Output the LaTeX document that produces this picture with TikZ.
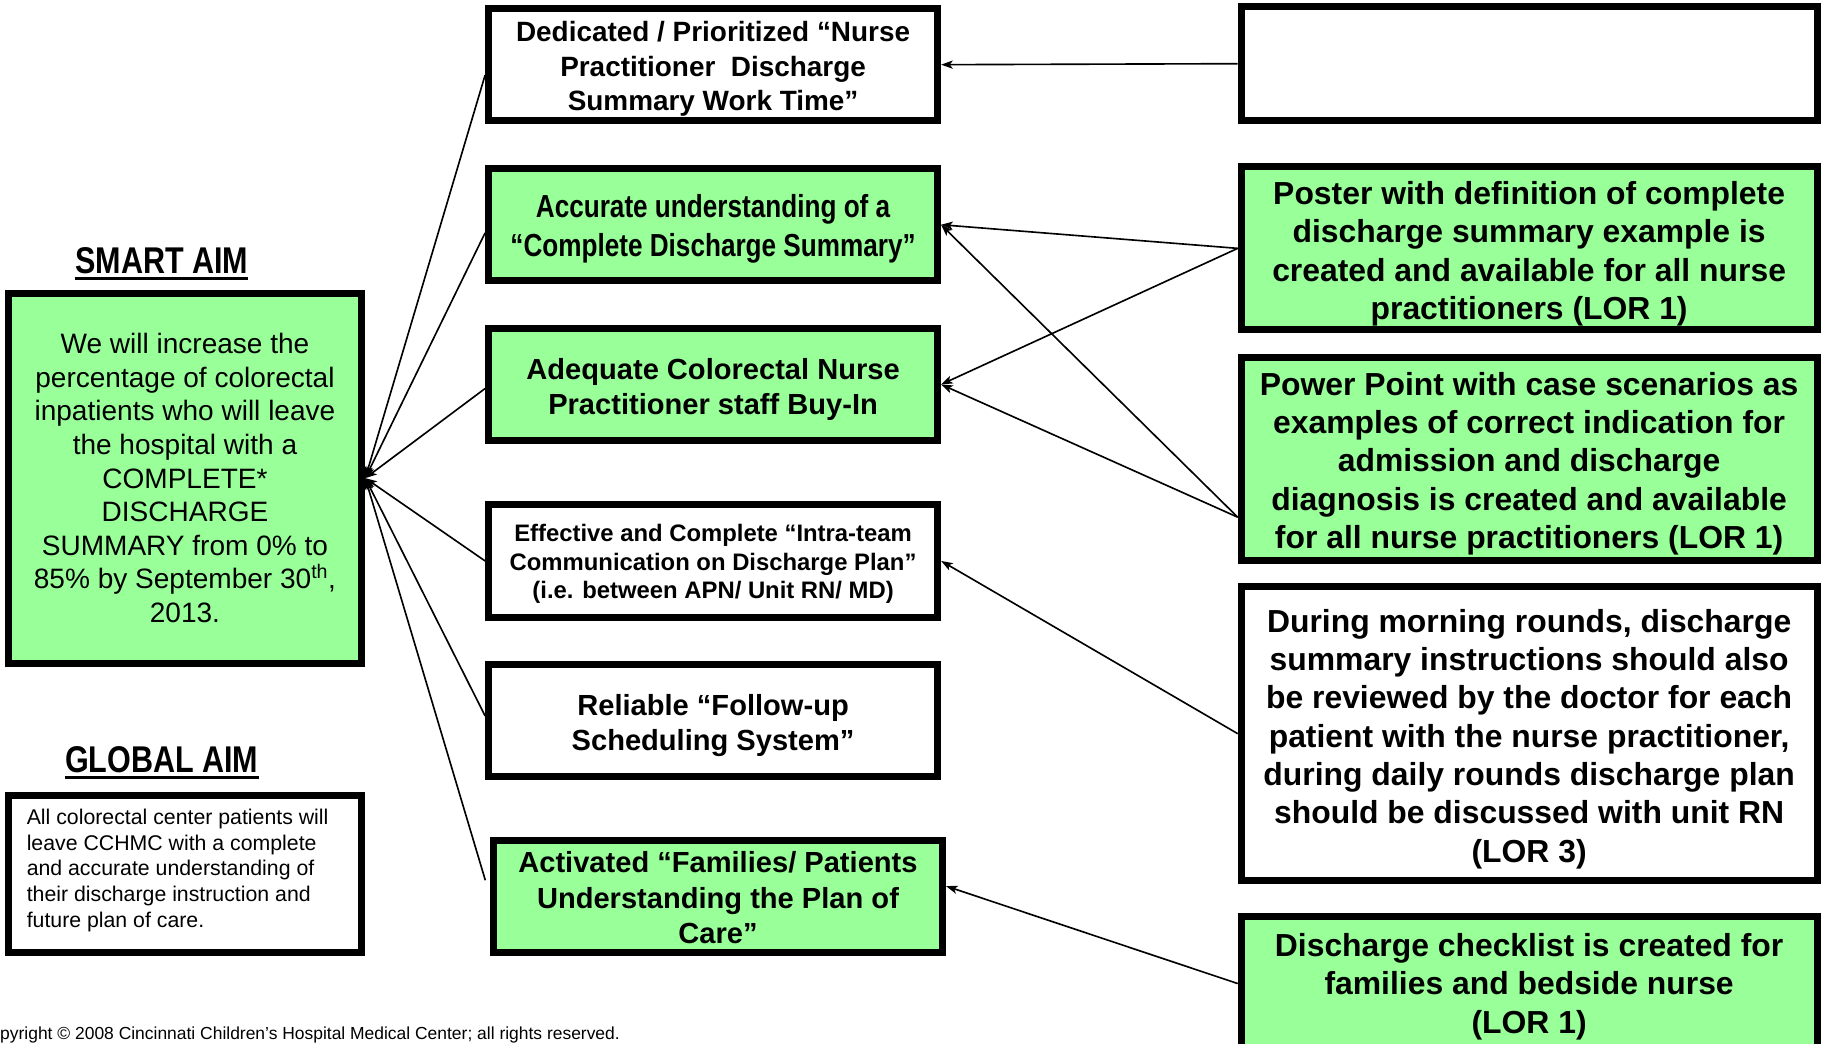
\documentclass[tikz,border=0pt]{standalone}
\usepackage{fontspec}
\setmainfont{Liberation Sans}
\newfontfamily\narrowfont{Liberation Sans}[FakeStretch=0.82]
\usetikzlibrary{arrows.meta,calc}
\definecolor{boxgreen}{HTML}{99FF99}
\newsavebox\cellbox
% text block whose visual position is moved down by #1 inside a centred node
\newcommand\celltext[2][4pt]{\sbox\cellbox{\begin{tabular}{@{}c@{}}#2\end{tabular}}%
  \ht\cellbox=\dimexpr\ht\cellbox+#1\relax\dp\cellbox=\dimexpr\dp\cellbox-#1\relax\usebox\cellbox}
\newcommand\leftcelltext[2][-3pt]{\sbox\cellbox{\begin{tabular}{@{}p{272pt}@{}}#2\end{tabular}}%
  \ht\cellbox=\dimexpr\ht\cellbox+#1\relax\dp\cellbox=\dimexpr\dp\cellbox-#1\relax\usebox\cellbox}
\begin{document}
\begin{tikzpicture}[x=1pt,y=-1pt,
  stdbox/.style={draw=black, line width=6pt, inner sep=0pt, text=black},
  gbox/.style={stdbox, fill=boxgreen},
  wbox/.style={stdbox, fill=white},
  midbox/.style={minimum width=386pt, minimum height=96.5pt},
  rightbox/.style={minimum width=495pt},
  midfont/.style={font=\bfseries\fontsize{25}{30}\selectfont},
  rightfont/.style={font=\bfseries\fontsize{27.4}{33}\selectfont},
  conn/.style={line width=1.4pt, -{Stealth[length=10pt,width=7pt,inset=2.5pt]}},
  aimtitle/.style={inner sep=0pt, font=\narrowfont\bfseries\fontsize{32}{38}\selectfont},
  uline/.style={line width=2.9pt}
]
\useasboundingbox (0,0) rectangle (1568,897);
\begin{scope}
\clip (0,0) rectangle (1568,897);

% ---- left column ----
\node[aimtitle, anchor=base] (smarttitle) at (139,235) {SMART AIM};
\draw[uline] ($(smarttitle.base west)+(0,4.3)$) -- ($(smarttitle.base east)+(0,4.3)$);

\node[gbox, align=center, minimum width=304pt, minimum height=318pt,
      font=\fontsize{24.1}{28.9}\selectfont] (smart) at (159,411)
  {We will increase the\\percentage of colorectal\\inpatients who will leave\\the hospital with a\\COMPLETE*\\DISCHARGE\\SUMMARY from 0\% to\\85\% by September 30\textsuperscript{th},\\2013.};

\node[aimtitle, anchor=base] (globaltitle) at (139,664) {GLOBAL AIM};
\draw[uline] ($(globaltitle.base west)+(0,4.3)$) -- ($(globaltitle.base east)+(0,4.3)$);

\node[wbox, minimum width=304pt, minimum height=135pt,
      font=\fontsize{18.3}{22}\selectfont] (global) at (159,751.5)
  {\leftcelltext{All colorectal center patients will\\leave CCHMC with a complete\\and accurate understanding of\\their discharge instruction and\\future plan of care.}};

\node[inner sep=0pt, anchor=base west, font=\fontsize{15}{18}\selectfont] (copy) at (-19.2,893.5)
  {Copyright © 2008 Cincinnati Children’s Hospital Medical Center; all rights reserved.};

% ---- middle column ----
\node[wbox, midbox, font=\bfseries\fontsize{24}{29.5}\selectfont] (m1) at (613,55.6)
  {\celltext[4pt]{Dedicated / Prioritized “Nurse\\Practitioner\ \ Discharge\\Summary Work Time”}};
\node[gbox, midbox, font=\narrowfont\bfseries\fontsize{27.4}{33}\selectfont] (m2) at (613,193.2)
  {\celltext[4pt]{Accurate understanding of a\\“Complete Discharge Summary”}};
\node[gbox, midbox, midfont] (m3) at (613,330.5)
  {\celltext[5pt]{Adequate Colorectal Nurse\\Practitioner staff Buy-In}};
\node[wbox, midbox, font=\bfseries\fontsize{20.5}{24.5}\selectfont] (m4) at (613,482.2)
  {\celltext[3pt]{Effective and Complete “Intra-team\\Communication on Discharge Plan”\\(i.e. between APN/ Unit RN/ MD)}};
\node[wbox, midbox, midfont] (m5) at (613,619.4)
  {\celltext[4.5pt]{Reliable “Follow-up\\Scheduling System”}};
\node[gbox, midbox, font=\bfseries\fontsize{25}{30.5}\selectfont] (m6) at (617.2,770.7)
  {\celltext[4pt]{Activated “Families/ Patients\\Understanding the Plan of\\Care”}};

% ---- right column ----
\node[wbox, rightbox, minimum height=97.7pt] (r1) at (1314.5,54.75) {};
\node[gbox, rightbox, rightfont, minimum height=140.2pt] (r2) at (1314.5,213.5)
  {\celltext[5pt]{Poster with definition of complete\\discharge summary example is\\created and available for all nurse\\practitioners (LOR 1)}};
\node[gbox, rightbox, rightfont, minimum height=174.5pt] (r3) at (1314.5,394.6)
  {\celltext[4.5pt]{Power Point with case scenarios as\\examples of correct indication for\\admission and discharge\\diagnosis is created and available\\for all nurse practitioners (LOR 1)}};
\node[wbox, rightbox, rightfont, minimum height=252.7pt] (r4) at (1314.5,630.7)
  {\celltext[5pt]{During morning rounds, discharge\\summary instructions should also\\be reviewed by the doctor for each\\patient with the nurse practitioner,\\during daily rounds discharge plan\\should be discussed with unit RN\\(LOR 3)}};
\node[gbox, rightbox, rightfont, minimum height=115pt] (r5) at (1314.5,845.5)
  {\celltext[3pt]{Discharge checklist is created for\\families and bedside nurse\\(LOR 1)}};

% ---- connectors: middle -> smart aim ----
\draw[conn] ($(m1.west)+(0,9)$) -- (smart.east);
\draw[conn] ($(m2.west)+(0,7)$) -- (smart.east);
\draw[conn] ($(m3.west)+(0,3.5)$) -- (smart.east);
\draw[conn] (m4.west) -- (smart.east);
\draw[conn] ($(m5.west)+(0,-4)$) -- (smart.east);
\draw[conn] ($(m6.west)+(-4,-14)$) -- (smart.east);

% ---- connectors: right -> middle ----
\draw[conn] (r1.west) -- (m1.east);
\draw[conn] (r2.west) -- (m2.east);
\draw[conn] (r2.west) -- (m3.east);
\draw[conn] ($(r3.west)+(0,50)$) -- (m2.east);
\draw[conn] ($(r3.west)+(0,50)$) -- (m3.east);
\draw[conn] (r4.west) -- (m4.east);
\draw[conn] (r5.west) -- ($(m6.east)+(0,-9)$);
\end{scope}
\end{tikzpicture}
\end{document}
